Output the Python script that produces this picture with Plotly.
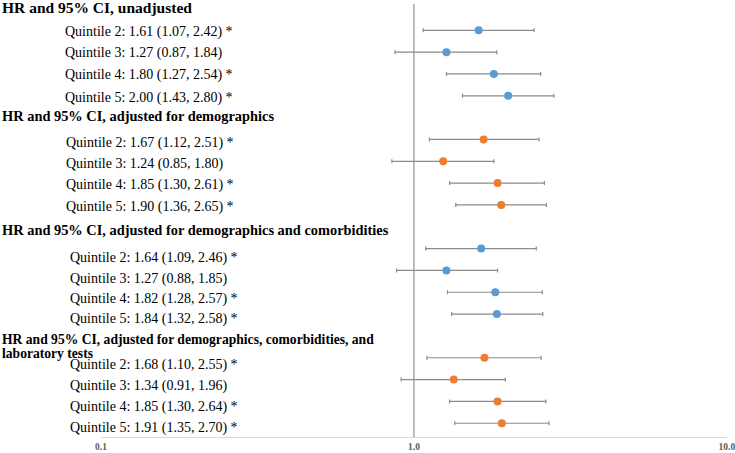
import plotly.graph_objects as go

# ---- data ----
group_titles = [
    "HR and 95% CI, unadjusted",
    "HR and 95% CI, adjusted for demographics",
    "HR and 95% CI, adjusted for demographics and comorbidities",
    "HR and 95% CI, adjusted for demographics, comorbidities, and|laboratory tests",
]
quintiles = ["Quintile 2", "Quintile 3", "Quintile 4", "Quintile 5"]

hr_unadj = [1.61, 1.27, 1.80, 2.00]
lo_unadj = [1.07, 0.87, 1.27, 1.43]
hi_unadj = [2.42, 1.84, 2.54, 2.80]

hr_demo = [1.67, 1.24, 1.85, 1.90]
lo_demo = [1.12, 0.85, 1.30, 1.36]
hi_demo = [2.51, 1.80, 2.61, 2.65]

hr_comorb = [1.64, 1.27, 1.82, 1.84]
lo_comorb = [1.09, 0.88, 1.28, 1.32]
hi_comorb = [2.46, 1.85, 2.57, 2.58]

hr_lab = [1.68, 1.34, 1.85, 1.91]
lo_lab = [1.10, 0.91, 1.30, 1.35]
hi_lab = [2.55, 1.96, 2.64, 2.70]

x_tickvals = [0.1, 1, 10]
x_ticktext = ["0.1", "1.0", "10.0"]

# ---- styling / layout ----
W, H = 735, 453
ML, MR, MT, MB = 101, 8, 4, 16
PW = W - ML - MR
PH = H - MT - MB
ROW0_PX = 8.47      # pixel centre of row index 0
ROW_PX = 21.83      # pixel height of one row

colors = ["#5B9BD5", "#ED7D31", "#5B9BD5", "#ED7D31"]
label_x_px = [63, 64, 68, 68]
label_y_px = [
    [31.7, 53.3, 75.5, 97.5],
    [142.5, 164, 185.5, 207],
    [258, 278.5, 298.5, 318.5],
    [365, 386, 407, 427.5],
]
header_y_px = [[7.5], [116], [229.5], [339, 353.5]]
header_size = [15.5, 14.4, 14.4, 13.6]
SERIF = "Liberation Serif, Times New Roman, serif"

series = [
    (hr_unadj, lo_unadj, hi_unadj),
    (hr_demo, lo_demo, hi_demo),
    (hr_comorb, lo_comorb, hi_comorb),
    (hr_lab, lo_lab, hi_lab),
]


def px_to_paper_y(py):
    return 1 - (py - MT) / PH


def px_to_paper_x(px):
    return (px - ML) / PW


fig = go.Figure()
annotations = []
row = 0
for g, (hr, lo, hi) in enumerate(series):
    # header
    for line, hy in zip(group_titles[g].split("|"), header_y_px[g]):
        annotations.append(dict(
            text=line, xref="paper", yref="paper",
            x=px_to_paper_x(0), y=px_to_paper_y(hy),
            xanchor="left", yanchor="middle", showarrow=False,
            font=dict(family=SERIF, size=header_size[g], color="#000000",
                      weight="bold"),
        ))
    row += 1
    ys = []
    for k in range(len(hr)):
        ys.append(row)
        txt = f"{quintiles[k]}: {hr[k]:.2f} ({lo[k]:.2f}, {hi[k]:.2f})"
        if lo[k] > 1:
            txt += " *"
        annotations.append(dict(
            text=txt, xref="paper", yref="paper",
            x=px_to_paper_x(label_x_px[g]), y=px_to_paper_y(label_y_px[g][k]),
            xanchor="left", yanchor="middle", showarrow=False,
            font=dict(family=SERIF, size=14, color="#000000"),
        ))
        row += 1
    fig.add_trace(go.Scatter(
        x=hr, y=ys, mode="markers",
        marker=dict(color=colors[g], size=8, line=dict(width=0)),
        error_x=dict(
            type="data", symmetric=False,
            array=[h - m for h, m in zip(hi, hr)],
            arrayminus=[m - l for m, l in zip(hr, lo)],
            color="#8c8c8c", thickness=1.2, width=2,
        ),
        showlegend=False, hoverinfo="skip",
    ))

y_top = (MT - ROW0_PX) / ROW_PX
y_bot = (MT + PH - ROW0_PX) / ROW_PX

fig.add_shape(type="line", xref="x", yref="paper", x0=1, x1=1, y0=0, y1=1,
              line=dict(color="#7a7a7a", width=1), layer="below")

fig.update_layout(
    width=W, height=H,
    margin=dict(l=ML, r=MR, t=MT, b=MB, autoexpand=False),
    paper_bgcolor="white", plot_bgcolor="white",
    annotations=annotations,
    xaxis=dict(
        type="log", range=[-1, 1.0003], automargin=False,
        tickvals=x_tickvals, ticktext=x_ticktext,
        tickfont=dict(family=SERIF, size=9.5, color="#595959", weight="bold"),
        ticks="", showgrid=False, zeroline=False, ticklabeloverflow="allow",
        showline=True, linecolor="#d9d9d9", linewidth=1.3,
    ),
    yaxis=dict(
        range=[y_bot, y_top], showticklabels=False, showgrid=False,
        zeroline=False, showline=False, ticks="", automargin=False,
    ),
)

fig.write_html("out.html", config={"displayModeBar": False},
               post_script="document.body.style.margin='0';")
